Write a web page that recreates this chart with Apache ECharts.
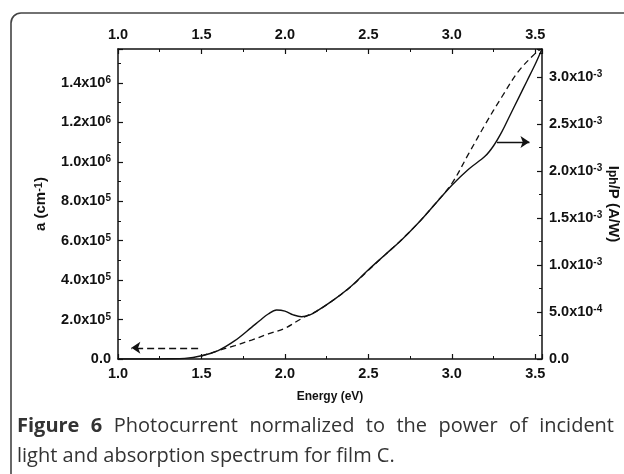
<!DOCTYPE html>
<html>
<head>
<meta charset="utf-8">
<script src="https://cdn.jsdelivr.net/npm/echarts@6/dist/echarts.min.js"></script>
<style>
html,body{margin:0;padding:0;background:#fff;}
#chart{width:624px;height:474px;}
</style>
</head>
<body>
<div id="chart"></div>
<script>
// Photocurrent normalized (solid, right axis, A/W)
const energyI = [1.0, 1.1, 1.2, 1.3, 1.4, 1.5, 1.6, 1.7, 1.8, 1.85, 1.9, 1.95, 2.0, 2.05, 2.1, 2.15, 2.2, 2.3, 2.4, 2.5, 2.6, 2.7, 2.8, 2.9, 3.0, 3.1, 3.2, 3.25, 3.3, 3.35, 3.4, 3.45, 3.5, 3.54];
const iph = [0, 0, 0, 0.000002, 0.000007, 0.000035, 0.00009, 0.000195, 0.000337, 0.00041, 0.000479, 0.000522, 0.00051, 0.00047, 0.00045, 0.00047, 0.00052, 0.00064, 0.00078, 0.00095, 0.00111, 0.00127, 0.00145, 0.00165, 0.00185, 0.00202, 0.00216, 0.00227, 0.00242, 0.0026, 0.00278, 0.00296, 0.00314, 0.0033];
// Absorption coefficient (dashed, left axis, cm^-1)
const energyA = [1.5, 1.6, 1.7, 1.8, 1.9, 2.0, 2.1, 2.2, 2.3, 2.4, 2.5, 2.6, 2.7, 2.8, 2.9, 3.0, 3.1, 3.2, 3.3, 3.4, 3.5, 3.53];
const alpha = [15000, 42000, 68000, 96000, 127000, 156000, 205000, 248000, 305000, 370000, 450000, 528000, 606000, 691000, 787000, 890000, 1040000, 1190000, 1330000, 1460000, 1550000, 1570000];
// Arrow annotations
const arrowLeftX = [1.48, 1.08];
const arrowLeftY = 57000;
const arrowRightX = [3.27, 3.465];
const arrowRightY = 0.00231;
// Axis settings
const xTicks = [1.0, 1.5, 2.0, 2.5, 3.0, 3.5];
const leftMax = 1572000, leftStep = 200000;
const rightMax = 0.0033, rightStep = 0.0005;
const xMin = 1.0, xMax = 3.54, xStep = 0.5;
// Caption
const captionLine1 = [['Figure', true], ['6', true], ['Photocurrent', false], ['normalized', false], ['to', false], ['the', false], ['power', false], ['of', false], ['incident', false]];
const captionLine2 = 'light and absorption spectrum for film C.';

const FONT = 'Liberation Sans';
const CAPFONT = 'Open Sans';
const CAPSIZE = 20;
const chart = echarts.init(document.getElementById('chart'));

function isMult(v, step) {
  const r = v / step;
  return Math.abs(r - Math.round(r)) < 1e-6;
}
function sciLabel(v, step) {
  if (!isMult(v, step)) return '';
  if (Math.abs(v) < 1e-15) return '{n|0.0}';
  let e = Math.floor(Math.log10(Math.abs(v)) + 1e-9);
  let m = v / Math.pow(10, e);
  return '{n|' + m.toFixed(1) + 'x10}{s|' + e + '}';
}
const richLab = {
  n: {fontSize: 14.5, fontWeight: 'bold', fontFamily: FONT, color: '#111'},
  s: {fontSize: 10, fontWeight: 'bold', fontFamily: FONT, color: '#111', verticalAlign: 'top', lineHeight: 10}
};
const axisLineStyle = {color: '#111', width: 1.5};

function xAxisCfg(pos) {
  return {
    type: 'value', position: pos, min: xMin, max: xMax, interval: xStep,
    axisLine: {show: true, onZero: false, lineStyle: axisLineStyle},
    axisTick: {show: true, inside: true, length: 5, lineStyle: {color: '#111', width: 1.2}},
    minorTick: {show: true, splitNumber: 2, length: 3, lineStyle: {color: '#111', width: 1}},
    splitLine: {show: false},
    axisLabel: {
      margin: 7, fontSize: 14.5, fontWeight: 'bold', fontFamily: FONT, color: '#111',
      formatter: v => xTicks.some(t => Math.abs(t - v) < 1e-6) ? v.toFixed(1) : ''
    }
  };
}

// Justified caption line 1
const ctx = document.createElement('canvas').getContext('2d');
function capFont(bold) { return (bold ? 'bold ' : '') + CAPSIZE + 'px "' + CAPFONT + '"'; }
function measure(word, bold) {
  ctx.font = capFont(bold);
  return ctx.measureText(word).width;
}
const capLeft = 17, capRight = 614;
const widths = captionLine1.map(w => measure(w[0], w[1]));
const sumW = widths.reduce((a, b) => a + b, 0);
const gap = Math.max(4, (capRight - capLeft - sumW) / (captionLine1.length - 1));
const captionEls = [];
let cx = capLeft;
captionLine1.forEach((w, i) => {
  captionEls.push({
    type: 'text', x: cx, y: 426, silent: true,
    style: {text: w[0], font: capFont(w[1]), fill: '#333', textAlign: 'left', textVerticalAlign: 'middle'}
  });
  cx += widths[i] + gap;
});
captionEls.push({
  type: 'text', x: capLeft, y: 456, silent: true,
  style: {text: captionLine2, font: capFont(false), fill: '#333', textAlign: 'left', textVerticalAlign: 'middle'}
});

const option = {
  animation: false,
  backgroundColor: '#fff',
  grid: {left: 118, right: 82, top: 49, bottom: 115, containLabel: false, outerBoundsMode: 'none'},
  xAxis: [
    Object.assign(xAxisCfg('bottom'), {
      name: 'Energy (eV)', nameLocation: 'middle', nameGap: 32,
      nameTextStyle: {fontSize: 12, fontWeight: 'bold', fontFamily: FONT, color: '#111'}
    }),
    xAxisCfg('top')
  ],
  yAxis: [
    {
      type: 'value', position: 'left', min: 0, max: leftMax, interval: leftStep,
      axisLine: {show: true, lineStyle: axisLineStyle},
      axisTick: {show: true, inside: true, length: 5, lineStyle: {color: '#111', width: 1.2}},
      minorTick: {show: true, splitNumber: 2, length: 3, lineStyle: {color: '#111', width: 1}},
      splitLine: {show: false},
      axisLabel: {margin: 7, formatter: v => sciLabel(v, leftStep), rich: richLab},
      name: '{t|a (cm}{u|-1}{t|)}', nameLocation: 'middle', nameRotate: 90, nameGap: 70,
      nameTextStyle: {
        rich: {
          t: {fontSize: 15, fontWeight: 'bold', fontFamily: FONT, color: '#111'},
          u: {fontSize: 11, fontWeight: 'bold', fontFamily: FONT, color: '#111', verticalAlign: 'top', lineHeight: 10}
        }
      }
    },
    {
      type: 'value', position: 'right', min: 0, max: rightMax, interval: rightStep,
      axisLine: {show: true, lineStyle: axisLineStyle},
      axisTick: {show: true, inside: true, length: 5, lineStyle: {color: '#111', width: 1.2}},
      minorTick: {show: true, splitNumber: 2, length: 3, lineStyle: {color: '#111', width: 1}},
      splitLine: {show: false},
      axisLabel: {margin: 7, formatter: v => sciLabel(v, rightStep), rich: richLab},
      name: '{t|I}{d|ph}{t|/P (A/W)}', nameLocation: 'middle', nameRotate: -90, nameGap: 64,
      nameMoveOverlap: false,
      nameTextStyle: {
        rich: {
          t: {fontSize: 15, fontWeight: 'bold', fontFamily: FONT, color: '#111'},
          d: {fontSize: 12, fontWeight: 'bold', fontFamily: FONT, color: '#111', verticalAlign: 'bottom', lineHeight: 10}
        }
      }
    }
  ],
  series: [
    {
      name: 'Iph/P', type: 'line', xAxisIndex: 0, yAxisIndex: 1,
      data: energyI.map((e, i) => [e, iph[i]]),
      smooth: 0.35, showSymbol: false, symbol: 'none',
      lineStyle: {color: '#111', width: 1.4},
      markLine: {
        silent: true, symbol: ['none', 'arrow'], symbolSize: 9,
        label: {show: false},
        lineStyle: {color: '#111', width: 1.3, type: 'solid'},
        data: [[{coord: [arrowRightX[0], arrowRightY]}, {coord: [arrowRightX[1], arrowRightY]}]]
      }
    },
    {
      name: 'alpha', type: 'line', xAxisIndex: 0, yAxisIndex: 0,
      data: energyA.map((e, i) => [e, alpha[i]]),
      smooth: 0.35, showSymbol: false, symbol: 'none',
      lineStyle: {color: '#111', width: 1.3, type: [6, 4]},
      markLine: {
        silent: true, symbol: ['none', 'arrow'], symbolSize: 9,
        label: {show: false},
        lineStyle: {color: '#111', width: 1.3, type: [7, 4]},
        data: [[{coord: [arrowLeftX[0], arrowLeftY]}, {coord: [arrowLeftX[1], arrowLeftY]}]]
      }
    }
  ],
  graphic: [
    {
      type: 'rect', z: 100, silent: true,
      shape: {x: 11, y: 13, width: 660, height: 472, r: 10},
      style: {fill: 'none', stroke: '#444', lineWidth: 1.6}
    }
  ].concat(captionEls)
};
chart.setOption(option);
</script>
</body>
</html>
